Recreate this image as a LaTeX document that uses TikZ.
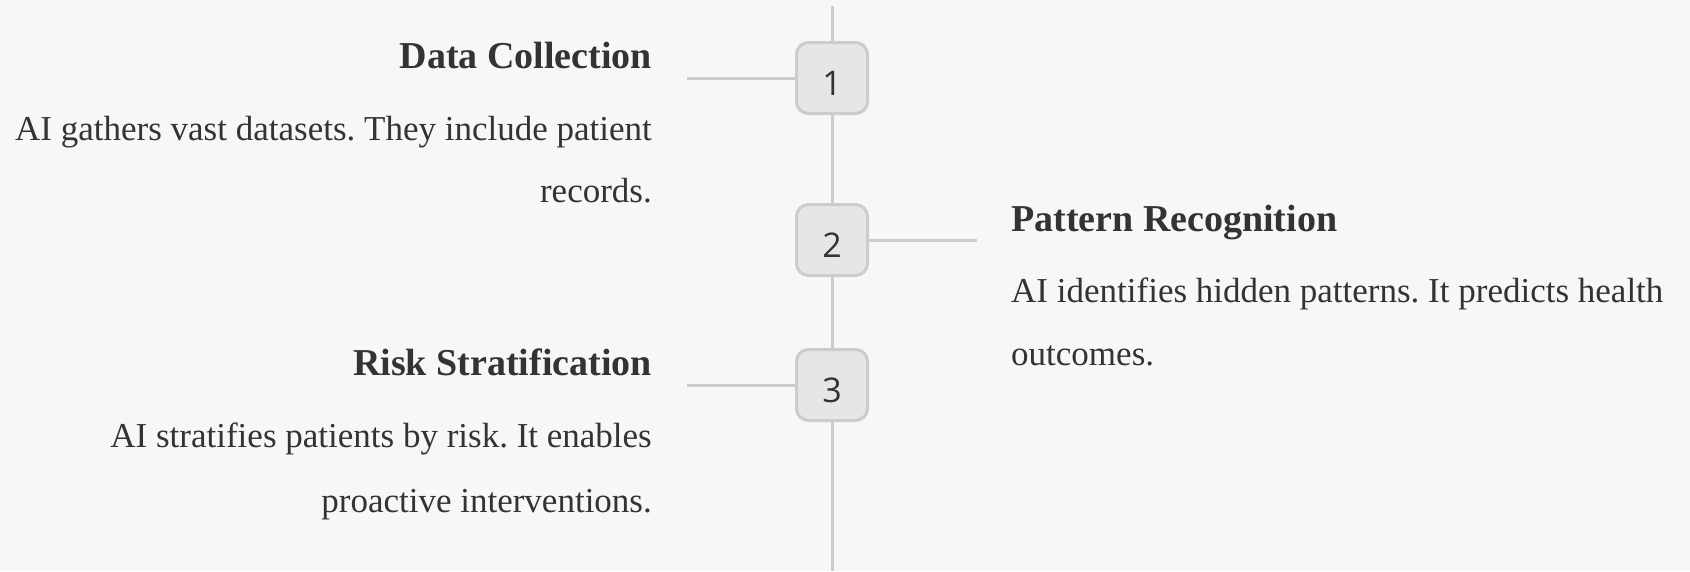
\documentclass[tikz,border=0pt]{standalone}
\usepackage{fontspec}
\setmainfont{Liberation Serif}
\newfontfamily\numfont{Open Sans}
\frenchspacing
\pgfdeclarelayer{background}
\pgfsetlayers{background,main}
\definecolor{bgcol}{HTML}{F7F7F7}
\definecolor{linecol}{HTML}{CCCCCC}
\definecolor{boxcol}{HTML}{E6E6E6}
\definecolor{inkcol}{HTML}{333333}
\def\stepNodes{{(832, 78)/1}, {(832, 240)/2}, {(832, 385)/3}}
\def\freeEnds{{(832, 6)/top}, {(832, 571)/bottom}, {(687, 78)/e1}, {(977, 240)/e2}, {(687, 385)/e3}}
\def\connect{top/s1, s1/s2, s2/s3, s3/bottom, e1/s1, s2/e2, e3/s3}
\def\textLines{{(652, 68)/east/title/t1/Data Collection},
  {(652, 140)/east/body/b1a/AI gathers vast datasets. They include patient},
  {(652, 202)/east/body/b1b/records.},
  {(1011, 231)/west/title/t2/Pattern Recognition},
  {(1011, 302)/west/body/b2a/AI identifies hidden patterns. It predicts health},
  {(1011, 365)/west/body/b2b/outcomes.},
  {(652, 375)/east/title/t3/Risk Stratification},
  {(652, 447)/east/body/b3a/AI stratifies patients by risk. It enables},
  {(652, 512)/east/body/b3b/proactive interventions.}}
\tikzstyle{stepbox}=[rectangle, rounded corners=12pt, draw=linecol, fill=boxcol, line width=3pt, minimum size=71pt, inner sep=0pt, text height=34pt, text depth=0pt, text=inkcol, font=\numfont\fontsize{34}{34}\selectfont]
\tikzstyle{edge}=[draw, line width=3pt, linecol]
\tikzstyle{free end}=[coordinate]
\tikzstyle{title}=[inner sep=0pt, text=inkcol, font=\bfseries\fontsize{38}{38}\selectfont]
\tikzstyle{body}=[inner sep=0pt, text=inkcol, font=\fontsize{35}{35}\selectfont]
\begin{document}
\begin{tikzpicture}[x=1pt, y=-1pt]
  % Page size
  \useasboundingbox (0, 0) rectangle (1690, 571);

  % The free ends of the connectors
  \foreach \pos/\name in \freeEnds {
    \node[free end] (\name) at \pos {};
    }

  % The numbered steps
  \foreach \pos/\num in \stepNodes {
    \node[stepbox] (s\num) at \pos {\num};
    }

  % Background layer: page and connections
  \begin{pgfonlayer}{background}
    \fill[bgcol] (0, 0) rectangle (1690, 571);
    \foreach \source/\sink in \connect {
      \path[edge] (\source) -- (\sink);
      }
  \end{pgfonlayer}

  % Titles and descriptions
  \foreach \pos/\side/\kind/\name/\words in \textLines {
    \node[\kind, anchor=base \side] (\name) at \pos {\words};
    }
\end{tikzpicture}
\end{document}
